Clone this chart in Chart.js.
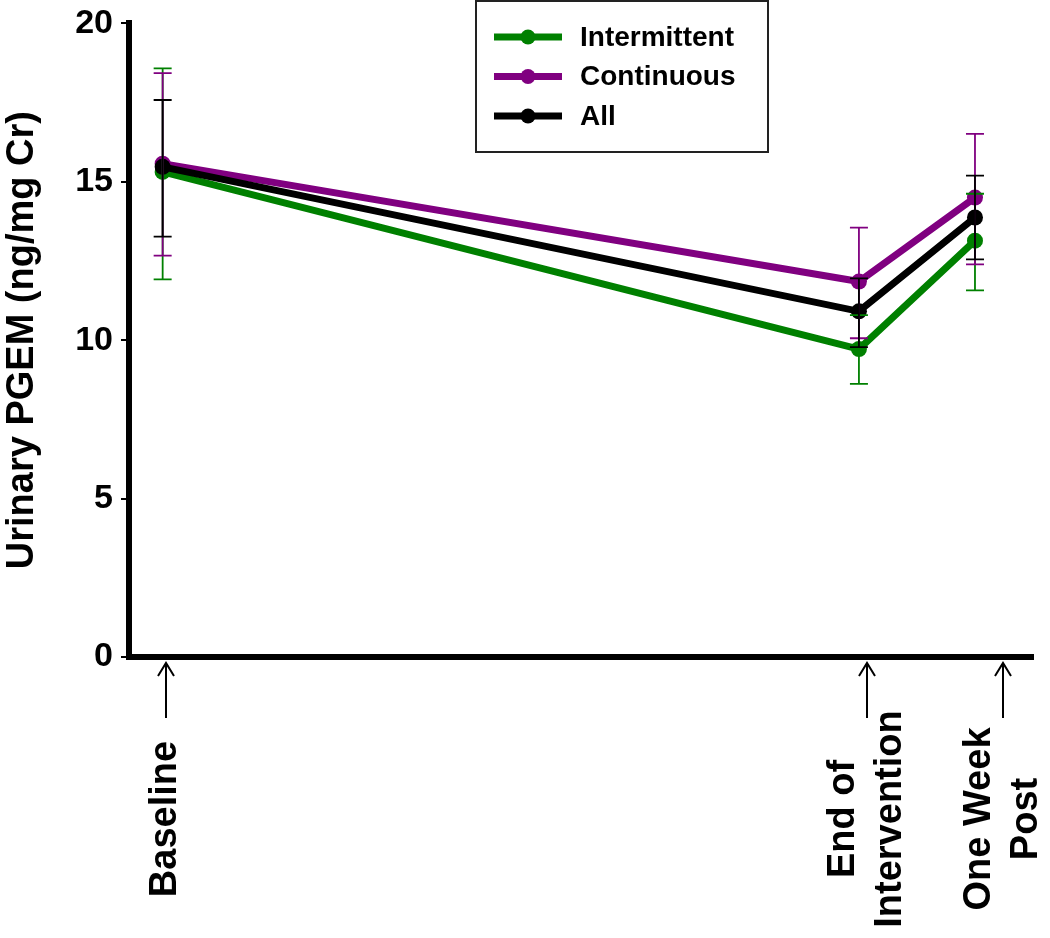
<!DOCTYPE html>
<html>
<head>
<meta charset="utf-8">
<script src="https://cdn.jsdelivr.net/npm/chart.js"></script>
<style>
  body { margin: 0; background: #fff; }
  #wrap { width: 1050px; height: 938px; }
</style>
</head>
<body>
<div id="wrap"><canvas id="myChart" width="1050" height="938"></canvas></div>
<script>
// time axis (weeks) and its labels
let timePoints = [0, 6, 7]
let timeLabels = [['Baseline'], ['End of', 'Intervention'], ['One Week', 'Post']]
let markerX = [0.03, 6.07, 7.24]

let seriesNames = ['Intermittent', 'Continuous', 'All']
let seriesColors = ['#008000', '#800080', '#000000']

// urinary PGEM, mean and error bar ends
let intermittent = [15.31, 9.72, 13.14]
let intermittentHigh = [18.58, 10.79, 14.62]
let intermittentLow = [11.92, 8.62, 11.57]

let continuous = [15.57, 11.85, 14.50]
let continuousHigh = [18.43, 13.55, 16.51]
let continuousLow = [12.67, 10.06, 12.39]

let all = [15.47, 10.91, 13.87]
let allHigh = [17.58, 11.95, 15.19]
let allLow = [13.27, 9.78, 12.55]

let yTicks = [0, 5, 10, 15, 20]

let means = [intermittent, continuous, all]
let highs = [intermittentHigh, continuousHigh, allHigh]
let lows = [intermittentLow, continuousLow, allLow]

const FONT = '"Liberation Sans", Arial, sans-serif'

let datasets = seriesNames.map(function (name, i) {
    return {
        label: name,
        data: timePoints.map(function (t, j) { return { x: t, y: means[i][j] } }),
        borderColor: seriesColors[i],
        backgroundColor: seriesColors[i],
        pointBackgroundColor: seriesColors[i],
        pointBorderWidth: 0,
        pointRadius: 8,
        borderWidth: 7,
        tension: 0,
        order: 2 - i
    }
})

// vertical error bars with caps
let errorBars = {
    id: 'errorBars',
    afterDatasetsDraw(chart) {
        let ctx = chart.ctx
        let xs = chart.scales.x
        let ys = chart.scales.y
        ctx.save()
        ctx.lineWidth = 1.8
        seriesNames.forEach(function (name, i) {
            ctx.strokeStyle = seriesColors[i]
            timePoints.forEach(function (t, j) {
                let px = xs.getPixelForValue(t)
                let top = ys.getPixelForValue(highs[i][j])
                let bot = ys.getPixelForValue(lows[i][j])
                ctx.beginPath()
                ctx.moveTo(px, top); ctx.lineTo(px, bot)
                ctx.moveTo(px - 9, top); ctx.lineTo(px + 9, top)
                ctx.moveTo(px - 9, bot); ctx.lineTo(px + 9, bot)
                ctx.stroke()
            })
        })
        ctx.restore()
    }
}

// arrows and rotated labels under the x axis
let timeMarkers = {
    id: 'timeMarkers',
    afterDraw(chart) {
        let ctx = chart.ctx
        let xs = chart.scales.x
        let base = chart.chartArea.bottom
        ctx.save()
        ctx.strokeStyle = '#000'
        ctx.fillStyle = '#000'
        ctx.lineWidth = 2
        markerX.forEach(function (v, i) {
            let px = Math.round(xs.getPixelForValue(v))
            ctx.beginPath()
            ctx.moveTo(px, base + 6); ctx.lineTo(px, base + 61)
            ctx.moveTo(px - 8, base + 19); ctx.lineTo(px, base + 6); ctx.lineTo(px + 8, base + 19)
            ctx.stroke()

            let lines = timeLabels[i]
            ctx.save()
            ctx.translate(px, base + 162)
            ctx.rotate(-Math.PI / 2)
            ctx.font = 'bold 38px ' + FONT
            ctx.textAlign = 'center'
            ctx.textBaseline = 'middle'
            lines.forEach(function (line, k) {
                ctx.fillText(line, 0, (k - (lines.length - 1) / 2) * 47)
            })
            ctx.restore()
        })
        ctx.restore()
    }
}

// boxed legend with line + dot samples
let boxLegend = {
    id: 'boxLegend',
    afterDraw(chart) {
        let ctx = chart.ctx
        ctx.save()
        ctx.fillStyle = '#fff'
        ctx.fillRect(476, 1, 292, 151)
        ctx.strokeStyle = '#222'
        ctx.lineWidth = 2
        ctx.strokeRect(476, 1, 292, 151)
        chart.data.datasets.forEach(function (ds, i) {
            let y = 37 + i * 39.5
            ctx.strokeStyle = ds.borderColor
            ctx.lineWidth = 7
            ctx.beginPath()
            ctx.moveTo(494, y); ctx.lineTo(562, y)
            ctx.stroke()
            ctx.fillStyle = ds.borderColor
            ctx.beginPath()
            ctx.arc(528, y, 7.5, 0, Math.PI * 2)
            ctx.fill()
            ctx.fillStyle = '#000'
            ctx.font = 'bold 28px ' + FONT
            ctx.textAlign = 'left'
            ctx.textBaseline = 'middle'
            ctx.fillText(ds.label, 580, y + 1)
        })
        ctx.restore()
    }
}

let myChart = document.getElementById('myChart').getContext('2d')

let chart = new Chart(myChart, {
    type: 'line',
    data: { datasets: datasets },
    options: {
        responsive: false,
        devicePixelRatio: 1,
        animation: false,
        layout: { padding: { top: 4, right: 17, left: 0, bottom: 0 } },
        plugins: {
            legend: { display: false },
            tooltip: { enabled: false }
        },
        scales: {
            x: {
                type: 'linear',
                min: -0.29,
                max: 7.5,
                grid: { display: false },
                border: { display: true, color: '#000', width: 6 },
                ticks: { display: false },
                afterFit: function (scale) { scale.height = 281 }
            },
            y: {
                min: 0,
                max: 20,
                afterBuildTicks: function (scale) {
                    scale.ticks = yTicks.map(function (v) { return { value: v } })
                },
                grid: {
                    drawOnChartArea: false,
                    color: '#000',
                    lineWidth: 2,
                    tickLength: 8
                },
                border: { display: true, color: '#000', width: 6 },
                ticks: {
                    color: '#000',
                    padding: 8,
                    font: { family: FONT, size: 34, weight: 'bold', lineHeight: 0.9 }
                },
                title: {
                    display: true,
                    text: 'Urinary PGEM (ng/mg Cr)',
                    color: '#000',
                    padding: 0,
                    font: { family: FONT, size: 38, weight: 'bold' }
                },
                afterFit: function (scale) { scale.width = 129 }
            }
        }
    },
    plugins: [errorBars, timeMarkers, boxLegend]
})
</script>
</body>
</html>
